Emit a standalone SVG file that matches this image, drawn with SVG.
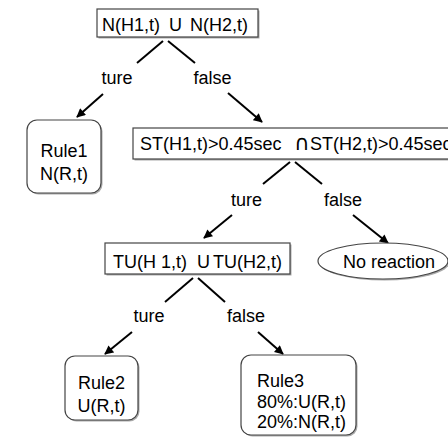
<svg xmlns="http://www.w3.org/2000/svg" width="448" height="440" viewBox="0 0 448 440">
<style>
text{font-family:"Liberation Sans",Arial,"DejaVu Sans",sans-serif;font-size:18px;fill:#000}
.box{fill:#fff;stroke:#444;stroke-width:1.2}
.sh{fill:#aaa;stroke:none}
.ln{stroke:#000;stroke-width:2;fill:none}
.ar{stroke:#000;stroke-width:2;fill:none;marker-end:url(#ah)}
.m{text-anchor:middle}
.sym{font-family:"DejaVu Sans",sans-serif;font-size:21px}
</style>
<defs>
<marker id="ah" viewBox="0 0 10 10" refX="9" refY="5" markerWidth="10" markerHeight="9" markerUnits="userSpaceOnUse" orient="auto">
<path d="M0,0 L10,5 L0,10 z" fill="#000"/>
</marker>
</defs>
<g id="connectors">
<line class="ln" x1="163" y1="41" x2="137" y2="63"/>
<line class="ln" x1="168" y1="41" x2="195" y2="63"/>
<line class="ar" x1="103" y1="94" x2="77" y2="117"/>
<line class="ar" x1="228" y1="93" x2="262" y2="122"/>
<line class="ln" x1="290" y1="162" x2="263" y2="184"/>
<line class="ln" x1="295" y1="162" x2="322" y2="184"/>
<line class="ar" x1="232" y1="215" x2="204" y2="238"/>
<line class="ar" x1="353" y1="215" x2="388" y2="243"/>
<line class="ln" x1="193" y1="278" x2="165" y2="302"/>
<line class="ln" x1="198" y1="278" x2="225" y2="302"/>
<line class="ar" x1="132" y1="332" x2="105" y2="354"/>
<line class="ar" x1="258" y1="332" x2="283" y2="354"/>
<text class="m" x="117" y="84">ture</text>
<text class="m" x="212.5" y="84">false</text>
<text class="m" x="246.5" y="206">ture</text>
<text class="m" x="343" y="206">false</text>
<text class="m" x="149" y="322">ture</text>
<text class="m" x="246" y="322">false</text>
</g>
<g id="n-top">
<rect class="sh" x="98.5" y="10.5" width="161" height="28"/>
<rect class="box" x="97" y="9" width="161" height="28"/>
<text x="102" y="31">N(H1,t)<tspan x="169">U</tspan><tspan x="190">N(H2,t)</tspan></text>
</g>
<g id="rule1">
<rect class="sh" x="28.5" y="121.5" width="74" height="73" rx="10"/>
<rect class="box" x="27" y="120" width="74" height="73" rx="10"/>
<text class="m" x="64" y="157">Rule1</text>
<text class="m" x="64" y="180">N(R,t)</text>
</g>
<g id="st">
<rect class="sh" x="134.5" y="129.5" width="330" height="31"/>
<rect class="box" x="133" y="128" width="330" height="31"/>
<text x="140" y="150">ST(H1,t)&gt;0.45sec<tspan class="sym" x="294">∩</tspan><tspan x="310">ST(H2,t)&gt;0.45sec</tspan></text>
</g>
<g id="tu">
<rect class="sh" x="106.5" y="244.5" width="185" height="31"/>
<rect class="box" x="105" y="243" width="185" height="31"/>
<text x="113" y="268">TU(H<tspan dx="5">1,t)</tspan><tspan x="197">U</tspan><tspan x="213">TU(H2,t)</tspan></text>
</g>
<g id="no-reaction">
<ellipse class="sh" cx="384.5" cy="262.5" rx="65" ry="18"/>
<ellipse class="box" cx="383" cy="261" rx="65" ry="18"/>
<text x="343" y="268">No reaction</text>
</g>
<g id="rule2">
<rect class="sh" x="66.5" y="357.5" width="73" height="64" rx="10"/>
<rect class="box" x="65" y="356" width="73" height="64" rx="10"/>
<text class="m" x="101.5" y="389">Rule2</text>
<text class="m" x="101.5" y="412">U(R,t)</text>
</g>
<g id="rule3">
<rect class="sh" x="242.5" y="356.5" width="115" height="80" rx="10"/>
<rect class="box" x="241" y="355" width="115" height="80" rx="10"/>
<text x="257" y="387">Rule3</text>
<text x="257" y="408">80%:U(R,t)</text>
<text x="257" y="428">20%:N(R,t)</text>
</g>
</svg>
